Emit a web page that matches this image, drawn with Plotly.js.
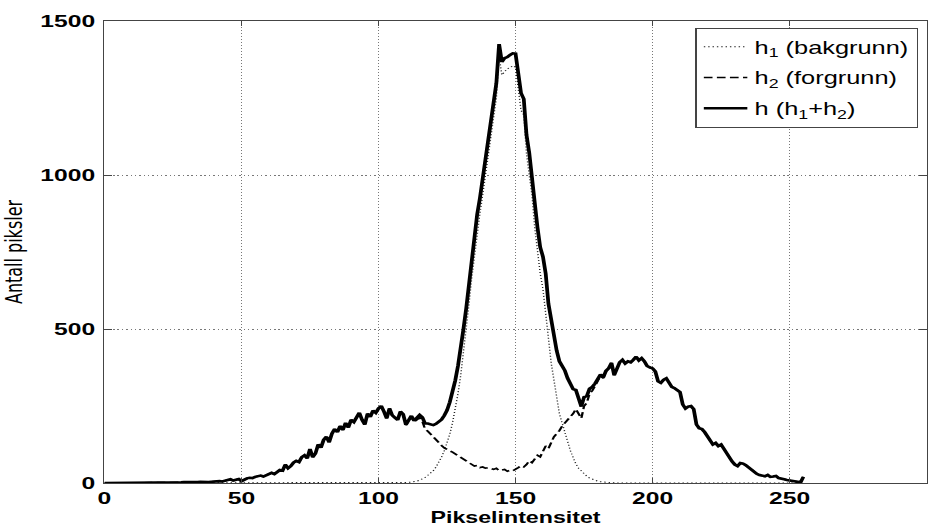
<!DOCTYPE html>
<html>
<head>
<meta charset="utf-8">
<script src="https://cdn.plot.ly/plotly-3.0.1.min.js"></script>
<style>
  html, body { margin: 0; padding: 0; background: #fff; overflow: hidden; }
  #wrap { width: 947px; height: 527px; overflow: hidden; }
  #chart { width: 653px; height: 527px; transform: scaleX(1.4502); transform-origin: 0 0; }
</style>
</head>
<body>
<div id="wrap"><div id="chart"></div></div>
<script>
// Pixel intensity levels 0..255
const intensity = Array.from({length: 256}, (_, i) => i);

// h1: background histogram (dotted)
const h1 = [
  0,0,0,0,0,0,0,0,0,0,          // 0-9
  0,0,0,0,0,0,0,0,0,0,          // 10-19
  0,0,0,0,0,0,0,0,0,0,          // 20-29
  0,0,0,0,0,0,0,0,0,0,          // 30-39
  0,0,0,0,0,0,0,0,0,0,          // 40-49
  0,0,0,0,0,0,0,0,0,0,          // 50-59
  0,0,0,0,0,0,0,0,0,0,          // 60-69
  0,0,0,0,0,0,0,0,0,0,          // 70-79
  0,0,0,0,0,0,0,0,0,0,          // 80-89
  0,0,0,0,0,0,0,0,0,0,          // 90-99
  0,0,0,0,0,0,0,0,0,1,          // 100-109
  1,2,3,4,6,9,13,18,25,32,      // 110-119
  40,52,66,84,105,128,158,195,238,290,        // 120-129
  350,420,495,580,665,745,815,875,935,1000,   // 130-139
  1080,1140,1190,1250,1385,1325,1335,1345,1348,1355, // 140-149
  1350,1290,1210,1195,1070,1000,935,830,740,680,     // 150-159
  630,560,470,390,330,270,225,195,170,135,    // 160-169
  105,80,62,48,38,29,22,16,12,8,              // 170-179
  6,4,3,2,1,0,0,0,0,0,          // 180-189
  0,0,0,0,0,0,0,0,0,0,          // 190-199
  0,0,0,0,0,0,0,0,0,0,          // 200-209
  0,0,0,0,0,0,0,0,0,0,          // 210-219
  0,0,0,0,0,0,0,0,0,0,          // 220-229
  0,0,0,0,0,0,0,0,0,0,          // 230-239
  0,0,0,0,0,0,0,0,0,0,          // 240-249
  0,0,0,0,0,0                   // 250-255
];

// h2: foreground histogram (dashed)
const h2 = [
  0,0,0,0,0,0,0,0,0,0,          // 0-9
  0,0,0,0,0,0,0,0,1,0,          // 10-19
  1,1,2,1,2,2,1,2,2,3,          // 20-29
  2,3,3,2,3,4,3,4,3,4,          // 30-39
  5,4,6,5,7,9,12,8,10,13,       // 40-49
  6,12,15,17,16,20,22,24,21,26, // 50-59
  30,33,29,36,42,40,60,48,55,66,        // 60-69
  72,68,84,90,80,110,84,96,125,115,     // 70-79
  140,150,132,160,175,165,185,172,195,180, // 80-89
  205,198,212,228,205,190,225,215,235,228, // 90-99
  242,250,232,210,242,220,212,205,232,222, // 100-109
  188,205,215,198,205,212,200,175,168,158, // 110-119
  148,140,132,122,114,108,104,100,95,90,   // 120-129
  84,80,72,66,60,55,57,50,52,48,           // 130-139
  50,46,44,48,40,42,44,38,42,40,           // 140-149
  44,50,56,52,60,72,66,80,90,85,           // 150-159
  105,120,112,135,150,160,170,185,195,205, // 160-169
  215,225,240,225,210,250,260,290,300,315, // 170-179
  330,348,340,362,372,390,350,375,392,400, // 180-189
  388,395,392,400,410,398,405,395,380,375, // 190-199
  372,362,330,325,335,340,325,312,308,302, // 200-209
  295,255,242,248,250,240,190,178,175,165, // 210-219
  150,140,125,130,120,125,110,95,80,70,    // 220-229
  60,55,65,63,58,50,42,35,30,26,           // 230-239
  25,22,26,20,21,23,16,15,12,10,           // 240-249
  8,6,5,4,2,20                             // 250-255
];

// h = h1 + h2 (total histogram, solid)
const h = h1.map((v, i) => v + h2[i]);

const seriesNames = [
  'h<sub>1</sub> (bakgrunn)',
  'h<sub>2</sub> (forgrunn)',
  'h (h<sub>1</sub>+h<sub>2</sub>)'
];
const xTicks = [0, 50, 100, 150, 200, 250, 300];
const yTicks = [0, 500, 1000, 1500];

const traces = [
  { x: intensity, y: h1, name: seriesNames[0], legendgroup: 'g1', type: 'scatter', mode: 'lines',
    line: { color: '#222', width: 1, dash: '1px,2px' } },
  { x: intensity, y: h2, name: seriesNames[1], legendgroup: 'g2', type: 'scatter', mode: 'lines',
    line: { color: '#000', width: 1.6, dash: '6px,3px' } },
  { x: intensity, y: h, name: seriesNames[2], legendgroup: 'g3', type: 'scatter', mode: 'lines',
    line: { color: '#000', width: 2.6 } }
];

const axisCommon = {
  showline: true, linecolor: '#444', linewidth: 1, mirror: 'ticks',
  ticks: 'inside', ticklen: 5, tickcolor: '#444', tickwidth: 1,
  showgrid: true, gridcolor: '#777', gridwidth: 1, griddash: '1px,2px',
  zeroline: false,
  tickfont: { family: 'Liberation Sans, Arial, sans-serif', size: 17, color: '#000', weight: 'bold' }
};

const layout = {
  width: 653, height: 527,
  margin: { l: 72, r: 14, t: 21, b: 44 },
  paper_bgcolor: '#fff', plot_bgcolor: '#fff',
  showlegend: true,
  xaxis: Object.assign({}, axisCommon, {
    range: [0, 300], tickmode: 'array', tickvals: xTicks, ticktext: xTicks.map(String),
    title: { text: 'Pikselintensitet', standoff: 4,
      font: { family: 'Liberation Sans, Arial, sans-serif', size: 16, color: '#000', weight: 'bold' } }
  }),
  yaxis: Object.assign({}, axisCommon, {
    range: [0, 1500], tickmode: 'array', tickvals: yTicks, ticktext: yTicks.map(String),
    ticklabelstandoff: 2,
    title: { text: 'Antall piksler', standoff: 9,
      font: { family: 'DejaVu Sans, sans-serif', size: 16, color: '#000' } }
  }),
  legend: {
    x: 0.99, xanchor: 'right', y: 0.985, yanchor: 'top',
    bgcolor: '#fff', bordercolor: '#444', borderwidth: 1,
    font: { family: 'Liberation Sans, Arial, sans-serif', size: 17.5, color: '#000' },
    traceorder: 'grouped', tracegroupgap: 5
  }
};

Plotly.newPlot('chart', traces, layout, { displayModeBar: false, staticPlot: true });
</script>
</body>
</html>
